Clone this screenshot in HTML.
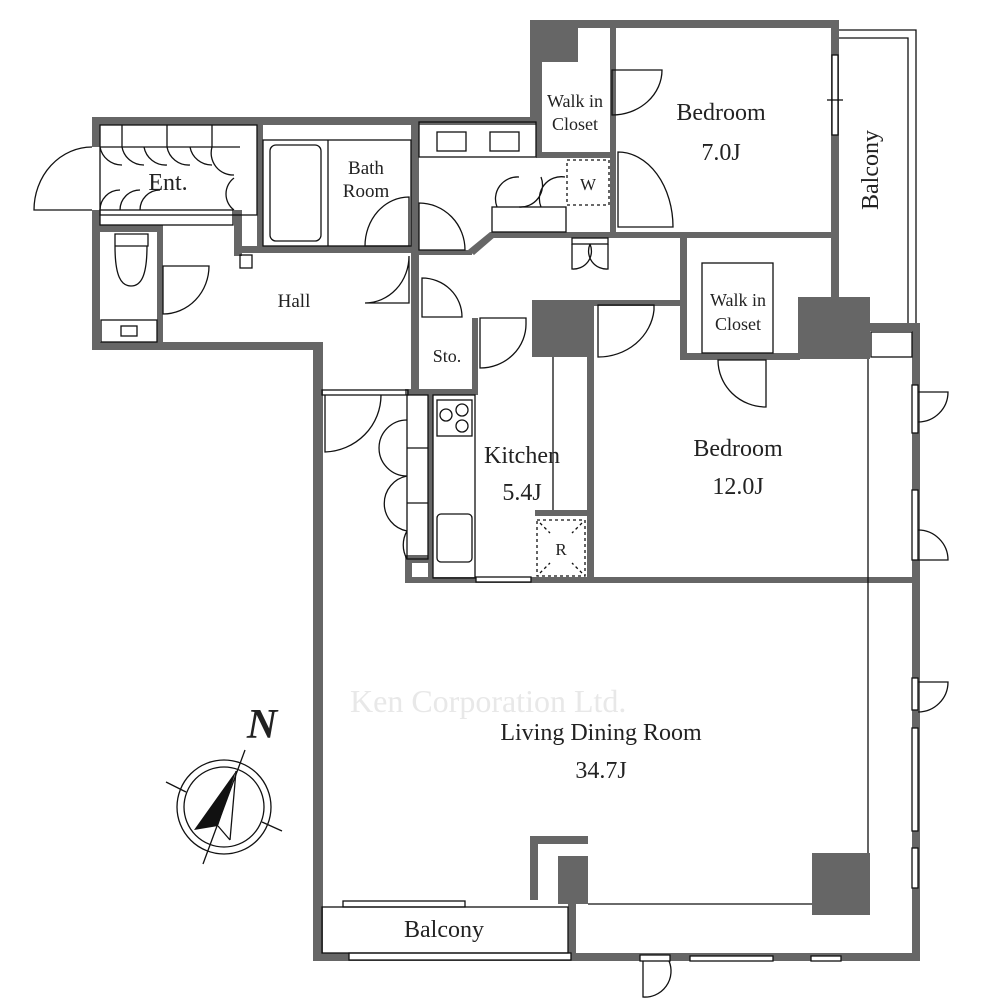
<!DOCTYPE html>
<html><head><style>body{margin:0;background:#fff}svg{display:block}
text{font-family:"Liberation Serif",serif;fill:#222}</style></head><body>
<svg width="1000" height="1000" viewBox="0 0 1000 1000" xmlns="http://www.w3.org/2000/svg">
<g fill="#666">
<rect x="92" y="117" width="446" height="8"/>
<rect x="92" y="117" width="8" height="30"/>
<rect x="92" y="210" width="8" height="140"/>
<rect x="92" y="342" width="231" height="8"/>
<rect x="313" y="342" width="10" height="619"/>
<rect x="313" y="953" width="605" height="8"/>
<rect x="912" y="323" width="8" height="638"/>
<rect x="870" y="323" width="50" height="8"/>
<rect x="530" y="20" width="308" height="8"/>
<rect x="530" y="20" width="8" height="105"/>
<rect x="831" y="20" width="8" height="280"/>
<rect x="530" y="20" width="48" height="42"/>
<rect x="798" y="297" width="72" height="62"/>
<rect x="532" y="300" width="56" height="57"/>
<rect x="812" y="853" width="58" height="62"/>
<rect x="530" y="836" width="58" height="8"/>
<rect x="530" y="836" width="8" height="64"/>
<rect x="558" y="856" width="30" height="48"/>
<rect x="568" y="895" width="8" height="66"/>
<rect x="257" y="117" width="6" height="135"/>
<rect x="234" y="210" width="8" height="46"/>
<rect x="234" y="246" width="184" height="7"/>
<rect x="100" y="225" width="63" height="7"/>
<rect x="157" y="225" width="6" height="122"/>
<rect x="411" y="117" width="8" height="278"/>
<rect x="405" y="389" width="73" height="6"/>
<rect x="472" y="318" width="6" height="77"/>
<rect x="428" y="389" width="5" height="193"/>
<rect x="405" y="555" width="28" height="27"/>
<rect x="405" y="577" width="507" height="6"/>
<rect x="587" y="300" width="7" height="283"/>
<rect x="594" y="300" width="92" height="6"/>
<rect x="680" y="232" width="7" height="128"/>
<rect x="680" y="353" width="120" height="7"/>
<rect x="490" y="232" width="348" height="6"/>
<rect x="419" y="250" width="53" height="5"/>
<rect x="610" y="20" width="6" height="218"/>
<rect x="536" y="20" width="6" height="138"/>
<rect x="536" y="152" width="78" height="6"/>
<rect x="535" y="510" width="55" height="6"/>
<rect x="418" y="117" width="118" height="5"/>
<polygon points="468,250 490,232 496,236 474,255"/>
</g>
<g fill="#fff"><rect x="412" y="563" width="16" height="14"/><rect x="871" y="332" width="41" height="25"/><rect x="541" y="844" width="16" height="12"/></g>
<g fill="none" stroke="#111" stroke-width="1.3">
<rect x="871" y="332" width="41" height="25"/>
<polyline points="839,30 916,30 916,323"/><polyline points="839,38 908,38 908,323"/>
<line x1="868" y1="359" x2="868" y2="853"/>
<line x1="812" y1="904" x2="588" y2="904"/>
<rect x="100" y="125" width="157" height="90"/><line x1="100" y1="147" x2="240" y2="147"/>
<line x1="122" y1="125" x2="122" y2="147"/><line x1="167" y1="125" x2="167" y2="147"/><line x1="212" y1="125" x2="212" y2="147"/>
<path d="M100,147 A22,22 0 0 0 122,165 M122,147 A22,22 0 0 0 144,165 M144,147 A22,22 0 0 0 167,165 M167,147 A22,22 0 0 0 190,165 M190,147 A22,22 0 0 0 212,165 M212,147 A22,22 0 0 0 234,175"/>
<path d="M100,210 A20,20 0 0 1 120,190 M120,210 A20,20 0 0 1 140,190 M140,210 A20,20 0 0 1 160,190 M234,210 A20,20 0 0 1 234,178"/>
<path d="M92,210 L34,210 A58,63 0 0 1 92,147"/>
<rect x="100" y="210" width="133" height="15"/>
<rect x="101" y="320" width="56" height="22"/><rect x="121" y="326" width="16" height="10"/>
<path d="M115,234 h33 v12 h-33z M115,246 c0,30 6,40 16,40 c10,0 16,-10 16,-40"/>
<path d="M163,266 h46 A46,48 0 0 1 163,314 z"/>
<rect x="240" y="255" width="12" height="13"/>
<rect x="263" y="140" width="148" height="106"/><line x1="328" y1="140" x2="328" y2="246"/>
<rect x="270" y="145" width="51" height="96" rx="6"/>
<path d="M409,197 v49 h-44 A44,49 0 0 1 409,197z"/>
<path d="M419,203 v47 h46 A46,47 0 0 0 419,203z"/>
<path d="M409,256 v47 h-44 A44,47 0 0 0 409,256z"/>
<path d="M422,278 v39 h40 A40,39 0 0 0 422,278z"/>
<path d="M480,318 h46 v5 A46,44 0 0 1 480,368z"/>
<rect x="419" y="122" width="117" height="35"/><rect x="437" y="132" width="29" height="19"/><rect x="490" y="132" width="29" height="19"/>
<rect x="492" y="207" width="74" height="25"/>
<path d="M497,207 a22,22 0 0 1 22,-30 M519,207 a22,22 0 0 0 22,-30 M541,207 a22,22 0 0 1 24,-30"/>
<rect x="567" y="160" width="42" height="45" stroke-dasharray="3,3"/>
<rect x="572" y="238" width="36" height="6"/>
<path d="M572,244 v25 a18,18 0 0 0 18,-25 M608,244 v25 a18,18 0 0 1 -18,-25"/>
<path d="M612,70 h50 A50,45 0 0 1 612,115z"/>
<path d="M618,227 v-75 A55,75 0 0 1 673,227z"/>
<rect x="832" y="55" width="6" height="80" fill="#fff"/><line x1="827" y1="100" x2="843" y2="100"/>
<rect x="702" y="263" width="71" height="90"/>
<path d="M718,360 h48 v47 A48,47 0 0 1 718,360z"/>
<path d="M598,305 h56 v5 A56,52 0 0 1 598,357z"/>
<rect x="322" y="390" width="86" height="5"/>
<path d="M325,395 v57 A58,57 0 0 0 381,395"/>
<rect x="407" y="395" width="21" height="164"/>
<line x1="407" y1="448" x2="428" y2="448"/><line x1="407" y1="503" x2="428" y2="503"/>
<path d="M407,420 a28,28 0 0 0 0,56 M407,476 a28,28 0 0 0 0,55 M407,531 a28,28 0 0 0 0,28"/>
<rect x="433" y="395" width="42" height="183"/><rect x="437" y="400" width="35" height="36"/>
<circle cx="446" cy="415" r="6"/><circle cx="462" cy="410" r="6"/><circle cx="462" cy="426" r="6"/>
<rect x="437" y="514" width="35" height="48" rx="4"/>
<rect x="476" y="577" width="55" height="5" fill="#fff"/>
<line x1="553" y1="357" x2="553" y2="510"/>
<rect x="537" y="520" width="48" height="56" stroke-dasharray="3,3"/>
<path d="M540,523 l10,10 M582,523 l-10,10 M540,573 l10,-10 M582,573 l-10,-10" stroke-dasharray="3,3"/>
<g fill="#fff">
<rect x="912" y="385" width="6" height="48"/><rect x="912" y="490" width="6" height="70"/>
<rect x="912" y="678" width="6" height="32"/>
<rect x="912" y="728" width="6" height="103"/><rect x="912" y="848" width="6" height="40"/>
<rect x="343" y="901" width="122" height="6"/>
<rect x="349" y="953" width="222" height="7"/>
<rect x="640" y="955" width="30" height="6"/>
<rect x="690" y="956" width="83" height="5"/><rect x="811" y="956" width="30" height="5"/>
</g>
<path d="M918,392 h30 a30,30 0 0 1 -30,30 M918,530 a30,30 0 0 1 30,30 h-30"/>
<path d="M918,682 h30 a30,30 0 0 1 -30,30"/>
<rect x="322" y="907" width="246" height="46"/>
<path d="M643,961 v36 a26,26 0 0 0 26,-36"/>
<circle cx="224" cy="807" r="47"/><circle cx="224" cy="807" r="40"/>
<line x1="245" y1="750" x2="203" y2="864"/>
<line x1="166" y1="782" x2="186" y2="792"/><line x1="262" y1="822" x2="282" y2="831"/>
<line x1="236" y1="771" x2="230" y2="840"/><line x1="218" y1="826" x2="230" y2="840"/>
</g>
<polygon points="236,771 194,830 218,826" fill="#111"/>
<text x="262" y="738" font-size="42" font-style="italic" font-weight="bold" text-anchor="middle">N</text>
<text x="350" y="712" font-family="Liberation Sans,sans-serif" font-size="32" style="fill:#e8e8e8">Ken Corporation Ltd.</text>
<g font-size="24" text-anchor="middle">
<text x="168" y="190">Ent.</text>
<text x="366" y="174" font-size="19">Bath</text><text x="366" y="197" font-size="19">Room</text>
<text x="294" y="307" font-size="19">Hall</text>
<text x="447" y="362" font-size="18">Sto.</text>
<text x="575" y="107" font-size="18">Walk in</text><text x="575" y="130" font-size="18">Closet</text>
<text x="721" y="120">Bedroom</text><text x="721" y="160">7.0J</text>
<text x="738" y="306" font-size="18">Walk in</text><text x="738" y="330" font-size="18">Closet</text>
<text x="738" y="456">Bedroom</text><text x="738" y="494">12.0J</text>
<text x="522" y="463">Kitchen</text><text x="522" y="500">5.4J</text>
<text x="588" y="190" font-size="17">W</text><text x="561" y="555" font-size="17">R</text>
<text x="601" y="740">Living Dining Room</text><text x="601" y="778">34.7J</text>
<text x="444" y="937">Balcony</text>
<text transform="translate(878,170) rotate(-90)">Balcony</text>
</g>
</svg>
</body></html>
